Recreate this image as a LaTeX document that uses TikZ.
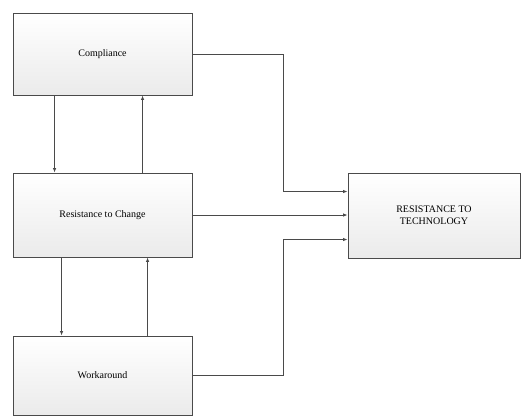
\documentclass[tikz,border=0pt]{standalone}
\usepackage{fontspec}
\setmainfont{Liberation Serif}
\usetikzlibrary{arrows.meta}
\definecolor{edge}{HTML}{4A4A4A}
\tikzset{
  box/.style={draw=edge, line width=0.9pt, top color=white, bottom color=gray!16,
    minimum width=179pt, inner sep=0pt, font=\fontsize{10}{12}\selectfont, align=center},
  arr/.style={draw=edge, line width=0.8pt, -{Latex[length=4.5pt,width=3.5pt]}}
}
\begin{document}
\begin{tikzpicture}[x=1pt,y=-1pt]
        \useasboundingbox (0,0) rectangle (522,416);
        \node[box, minimum height=82pt] (comp) at (102.5,54) {Compliance};
        \node[box, minimum height=84pt] (rtc) at (102.5,215) {Resistance to Change};
        \node[box, minimum height=79pt] (work) at (102.5,375.5) {Workaround};
        \node[box, minimum width=172pt, minimum height=85pt] (rt) at (434,215.5) {RESISTANCE TO\\TECHNOLOGY};
        \coordinate (jx) at (283,0);
        \draw[arr] ([xshift=42pt]comp.south west) -- ([xshift=42pt]rtc.north west);
        \draw[arr] ([xshift=130pt]rtc.north west) -- ([xshift=130pt]comp.south west);
        \draw[arr] ([xshift=49pt]rtc.south west) -- ([xshift=49pt]work.north west);
        \draw[arr] ([xshift=135pt]work.north west) -- ([xshift=135pt]rtc.south west);
        \draw[arr] (comp.east) -| ([yshift=24pt]rt.west -| jx) -- ([yshift=24pt]rt.west);
        \draw[arr] (rtc.east) -- (rtc.east -| rt.west);
        \draw[arr] (work.east) -| ([yshift=-24pt]rt.west -| jx) -- ([yshift=-24pt]rt.west);
      \end{tikzpicture}
\end{document}
